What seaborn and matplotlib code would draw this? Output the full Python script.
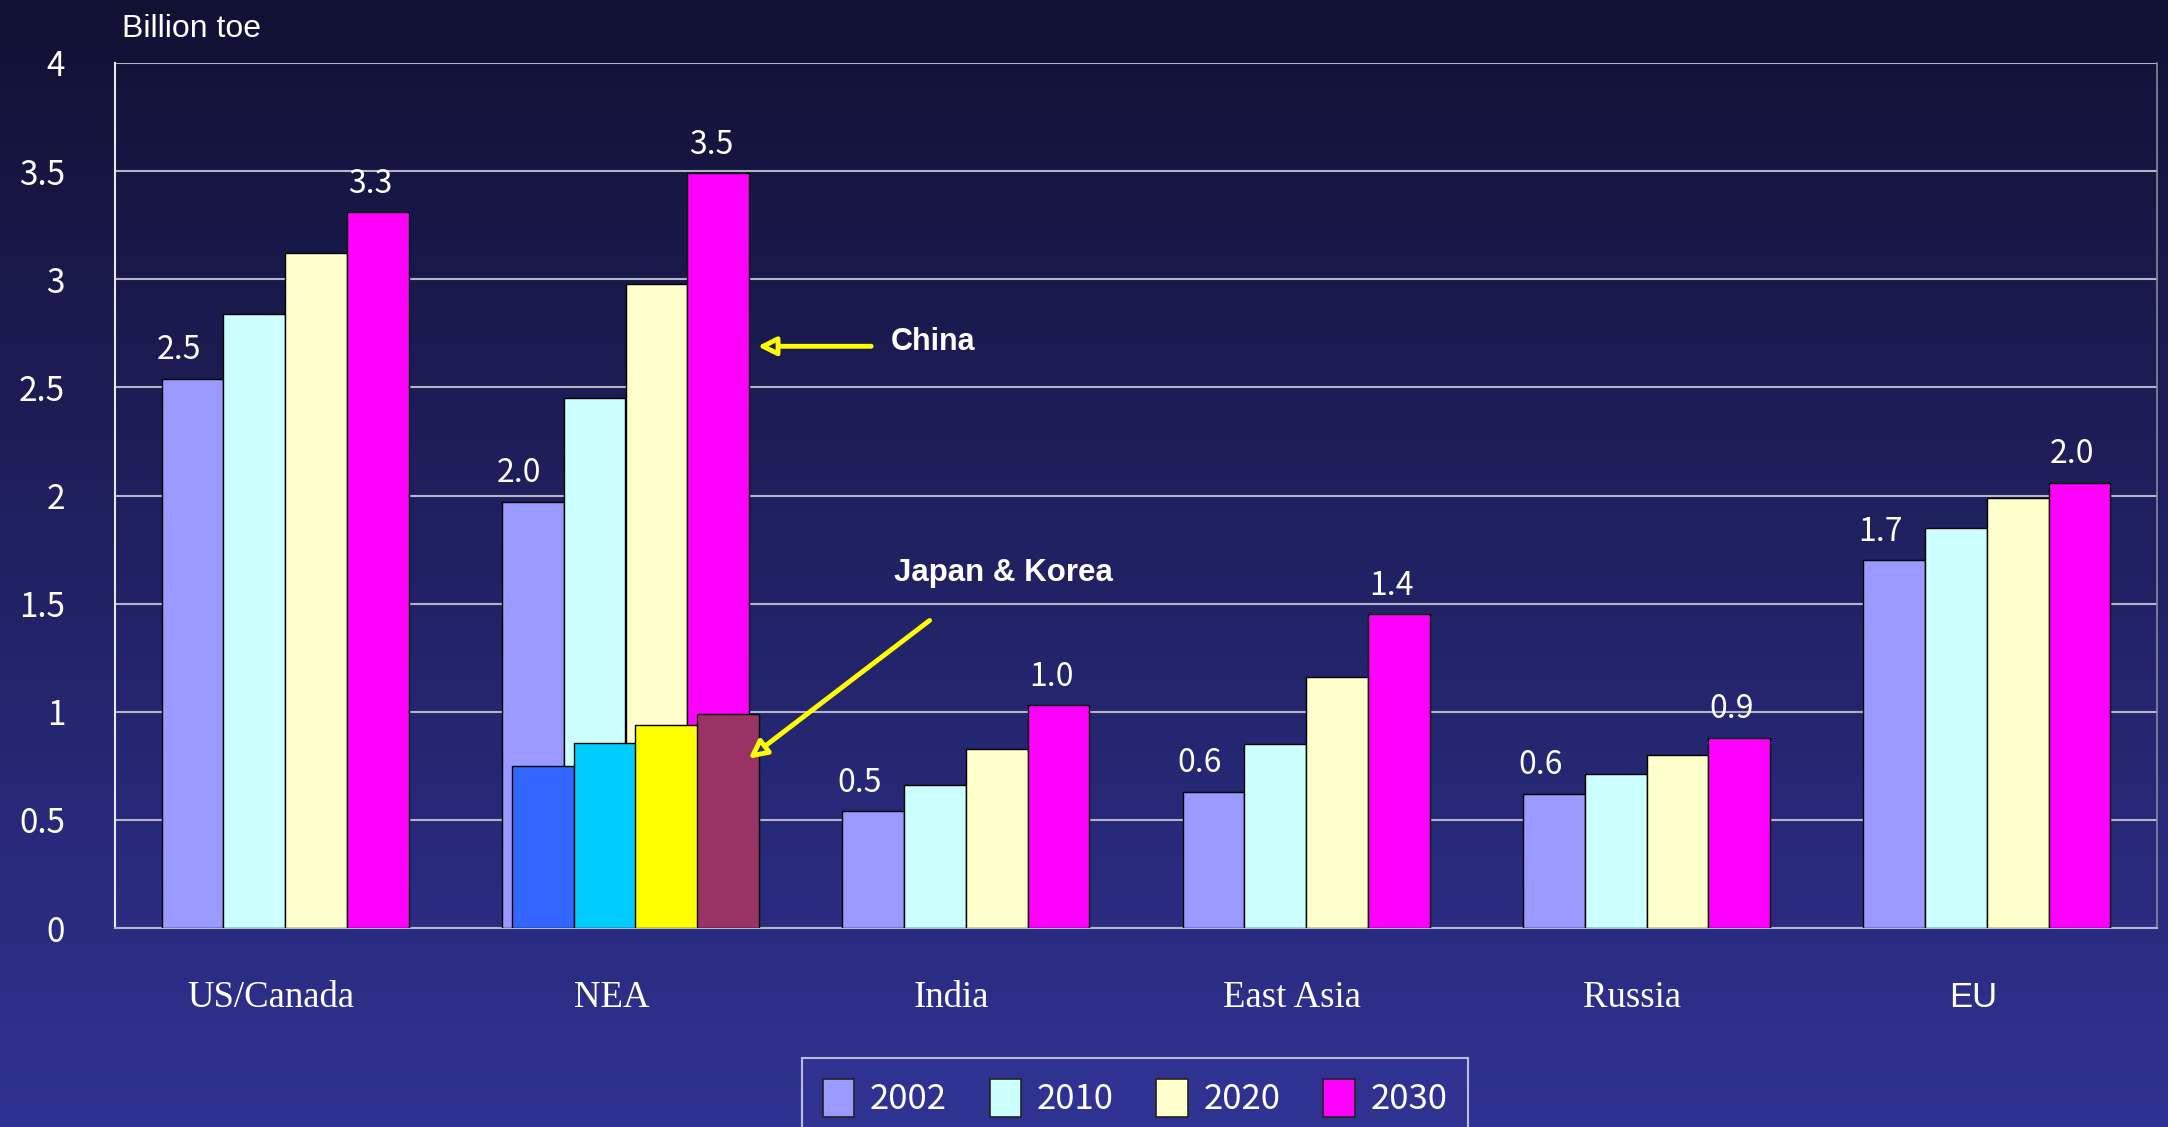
import numpy as np
import pandas as pd
import matplotlib
matplotlib.use("Agg")
import matplotlib.pyplot as plt
import matplotlib.transforms as mtransforms
from matplotlib.patches import Patch
import seaborn as sns

# data (billion toe)
regions = ["US/Canada", "NEA", "India", "East Asia", "Russia", "EU"]
years = ["2002", "2010", "2020", "2030"]
v2002 = [2.54, 1.97, 0.54, 0.63, 0.62, 1.70]
v2010 = [2.84, 2.45, 0.66, 0.85, 0.71, 1.85]
v2020 = [3.12, 2.98, 0.83, 1.16, 0.80, 1.99]
v2030 = [3.31, 3.49, 1.03, 1.45, 0.88, 2.06]
jk_vals = [0.75, 0.855, 0.94, 0.99]   # Japan & Korea, inside NEA
lab2002 = ["2.5", "2.0", "0.5", "0.6", "0.6", "1.7"]
lab2030 = ["3.3", "3.5", "1.0", "1.4", "0.9", "2.0"]

colors = ["#9999FF", "#CCFFFF", "#FFFFCC", "#FF00FF"]
jk_colors = ["#3366FF", "#00CCFF", "#FFFF00", "#993366"]

df = pd.DataFrame({
    "region": regions * 4,
    "year": sum([[y] * len(regions) for y in years], []),
    "value": v2002 + v2010 + v2020 + v2030,
})

sns.set_theme(style="white")
num_font = ["Noto Sans CJK JP", "DejaVu Sans"]
plt.rcParams["font.family"] = num_font

W, H = 2168, 1127
fig = plt.figure(figsize=(W / 100, H / 100), dpi=100)

# gradient background
bg = fig.add_axes([0, 0, 1, 1], zorder=0)
top = np.array([17, 17, 52]) / 255
bot = np.array([48, 50, 146]) / 255
t = np.linspace(0, 1, 256)[:, None]
grad = (top[None, :] * (1 - t) + bot[None, :] * t)[:, None, :]
bg.imshow(grad, aspect="auto", extent=[0, 1, 0, 1], origin="upper")
bg.axis("off")

ax = fig.add_axes([115 / W, 1 - 928 / H, (2157 - 115) / W, (928 - 63) / H], zorder=1)
ax.set_facecolor("none")

sns.barplot(data=df, x="region", y="value", hue="year", hue_order=years,
            palette=colors, saturation=1, width=0.725, edgecolor="black",
            linewidth=1, legend=False, ax=ax, zorder=3)
year_bars = list(ax.containers)

# Japan & Korea overlay bars in the NEA group
for j, c in enumerate(year_bars):
    p = c.patches[1]
    ax.bar(p.get_x() + p.get_width() / 2 + 0.03, jk_vals[j], width=p.get_width() * 1.01,
           color=jk_colors[j], edgecolor="black", linewidth=1, zorder=4)

# value labels on 2002 and 2030 bars
for cont, labs, dx in [(year_bars[0], lab2002, -10), (year_bars[3], lab2030, -5)]:
    anns = ax.bar_label(cont, labels=labs, padding=9, color="white",
                        fontsize=23, family=num_font)
    for a in anns:
        a.xyann = (dx, 9)

ax.set_ylim(0, 4)
ax.set_xlim(-0.5, 5.5)
ax.set_yticks(np.arange(0, 4.01, 0.5))
ax.set_yticklabels(["0", "0.5", "1", "1.5", "2", "2.5", "3", "3.5", "4"])
ax.yaxis.grid(True, color="#b4b4c8", linewidth=1.5, zorder=0)
ax.set_axisbelow(True)
ax.set_xlabel("")
ax.set_ylabel("")
ax.tick_params(axis="y", labelcolor="white", labelsize=24, direction="in",
               length=14, width=1.2, pad=36, color="#222222")
ax.set_xticks(range(len(regions)))
ax.set_xticklabels(regions)
ax.tick_params(axis="x", length=0, pad=38, labelcolor="white")
shift = mtransforms.ScaledTranslation(-14 / 100, 0, fig.dpi_scale_trans)
for i, lbl in enumerate(ax.get_xticklabels()):
    lbl.set_transform(lbl.get_transform() + shift)
    if regions[i] == "EU":
        lbl.set_fontfamily(["Liberation Sans", "DejaVu Sans"])
        lbl.set_fontsize(25)
    else:
        lbl.set_fontfamily(["Liberation Serif", "DejaVu Serif"])
        lbl.set_fontsize(26.5)
ax.set_xticks(np.arange(0.5, 5.0, 1), minor=True)
ax.tick_params(axis="x", which="minor", direction="in", length=12,
               color="#222222", width=1.2)

ax.spines["left"].set_color("#e8e8f0")
ax.spines["left"].set_linewidth(1.5)
ax.spines["bottom"].set_color("#b4b4c8")
ax.spines["bottom"].set_linewidth(1.5)
ax.spines["right"].set_color("#8888a0")
ax.spines["right"].set_linewidth(1.2)
ax.spines["top"].set_visible(False)

fig.text(122 / W, 1 - 29 / H, "Billion toe", color="white", fontsize=23,
         va="center", ha="left", family=["Liberation Sans", "DejaVu Sans"])

# annotations
ann_font = ["Liberation Sans", "DejaVu Sans"]
ax.text(1.78, 2.71, "China", color="white", fontsize=22, fontweight="bold",
        va="center", ha="left", family=ann_font)
ax.annotate("", xy=(1.38, 2.69), xytext=(1.73, 2.69),
            arrowprops=dict(arrowstyle="-|>,head_length=0.9,head_width=0.45",
                            color="#FFFF00", lw=3.5, fc="#1e1e60"), zorder=6)
ax.text(1.79, 1.64, "Japan & Korea", color="white", fontsize=22.5, fontweight="bold",
        va="center", ha="left", family=ann_font)
ax.annotate("", xy=(1.355, 0.775), xytext=(1.90, 1.43),
            arrowprops=dict(arrowstyle="-|>,head_length=0.9,head_width=0.45",
                            color="#FFFF00", lw=3.5, fc="#2c2c80"), zorder=6)

# legend
handles = [Patch(facecolor=c, edgecolor="#222222", linewidth=1.2) for c in colors]
leg = fig.legend(handles, years, loc="lower left",
                 bbox_to_anchor=(802 / W, -0.01, (1468 - 802) / W, (1127 - 1059) / H + 0.01),
                 mode="expand", ncol=4, frameon=True,
                 handlelength=0.9, handleheight=1.3, handletextpad=0.45,
                 borderaxespad=0, borderpad=0.6, fancybox=False,
                 prop={"family": ["Liberation Sans Narrow", "Noto Sans CJK JP", "DejaVu Sans"], "size": 25})
leg.get_frame().set_facecolor("#303392")
leg.get_frame().set_edgecolor("#e0e0f0")
leg.get_frame().set_linewidth(1.5)
for txt in leg.get_texts():
    txt.set_color("white")

fig.savefig("out.png", dpi=100)
